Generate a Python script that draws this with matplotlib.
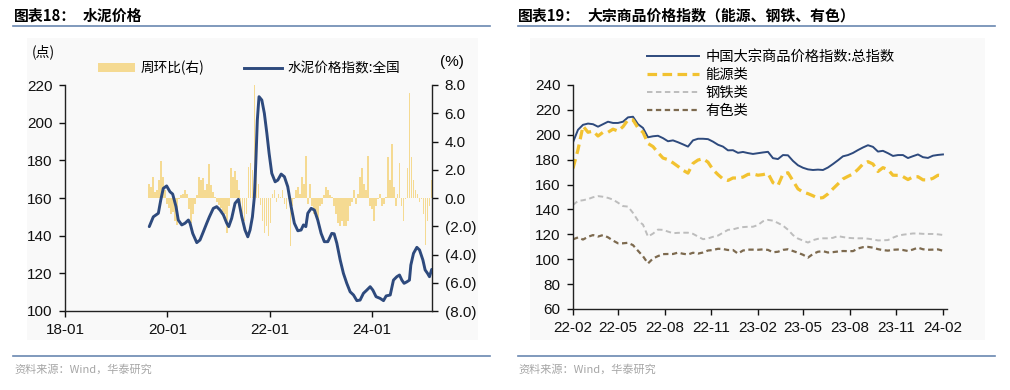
import matplotlib
matplotlib.use("Agg")
import matplotlib.pyplot as plt
from matplotlib.lines import Line2D
from matplotlib.patches import Rectangle
import pandas as pd
import numpy as np

plt.rcParams['font.family'] = ['Liberation Sans', 'Noto Sans CJK SC']
CJK = ['Noto Sans CJK SC', 'Liberation Sans']

# ---------------- data: left chart (cement) ----------------
cement_dates = ['2019-08-25','2019-09-23','2019-10-29','2019-11-15','2019-12-03','2019-12-27',
 '2020-01-20','2020-02-08','2020-03-03','2020-03-19','2020-04-13','2020-05-06','2020-05-30',
 '2020-06-11','2020-06-30','2020-07-29','2020-08-21','2020-09-14','2020-10-08','2020-10-27',
 '2020-11-24','2020-12-18','2021-01-11','2021-02-04','2021-02-28','2021-03-14','2021-04-04',
 '2021-04-28','2021-05-22','2021-06-15','2021-07-08','2021-07-28','2021-08-13','2021-08-30',
 '2021-09-13','2021-09-23','2021-10-04','2021-10-16','2021-11-05','2021-11-23','2021-12-11',
 '2021-12-27','2022-01-15','2022-02-08','2022-02-27','2022-03-23','2022-04-15','2022-05-09',
 '2022-06-02','2022-06-25','2022-07-20','2022-08-12','2022-08-29','2022-09-15','2022-09-29',
 '2022-10-23','2022-11-15','2022-12-09','2023-01-02','2023-01-25','2023-02-19','2023-03-19',
 '2023-04-05','2023-04-24','2023-05-18','2023-06-10','2023-07-04','2023-07-28','2023-08-21',
 '2023-09-14','2023-10-07','2023-10-31','2023-11-24','2023-12-18','2024-01-06','2024-01-29',
 '2024-02-27','2024-03-22','2024-04-10','2024-05-09','2024-06-01','2024-06-25','2024-07-14',
 '2024-07-31','2024-08-16','2024-09-05','2024-09-23','2024-10-03','2024-10-22','2024-11-15',
 '2024-12-04','2024-12-28','2025-01-13','2025-01-30','2025-02-13','2025-03-01']
cement_index = [144.8,150,151.9,158.9,165.1,166.4,163.3,162.1,155.4,148.3,
 145.7,146.6,148.3,146.6,141.2,136.3,137.7,142.1,146.6,150,
 154.5,155.4,153.6,151,146.6,144.8,149.2,157.2,159.3,150,
 143,139.4,143,150,160.7,178.4,201.4,213.8,212,205,
 194.3,183.7,173.1,168.6,169.5,172.7,171.3,166,155.4,146.6,
 142.6,143,145.7,144.8,151.9,154.5,153.6,148.3,141.2,136.8,
 136.8,141.2,141,136,127.1,120,114.7,110.2,108.5,105.5,
 105.8,109.4,111.1,112.9,111.1,107.6,106.7,105.5,108,108.5,
 116.4,118.2,119.1,116.4,114.7,115.5,116.4,124.4,130.6,133.8,
 132.4,127.1,121.8,120,118.2,122.1]

wow_start, wow_end = '2019-08-25', '2025-02-27'
cement_wow = [1.0,0.8,1.5,0.4,0.6,1.3,2.6,1.5,0.6,-0.4,
 -0.7,-1.1,-1.0,-1.6,-1.9,-0.1,0.2,0.3,0.6,0.3,
 -0.8,-1.8,-1.1,-0.4,0.2,1.5,1.3,1.4,0.6,1.0,
 2.4,0.9,0.4,0.1,-0.3,-0.5,-0.7,-1.0,-1.1,-2.5,
 -0.6,2.1,1.5,1.9,1.3,0.6,
 -0.6,-1.1,-1.6,-1.1,2.2,2.5,2.0,8.5,5.0,1.0,
 -0.5,-1.6,-2.5,-2.0,-2.7,-1.8,0.3,0.6,-0.3,0.3,
 0.1,0.6,-0.4,-0.8,-0.1,-3.4,-0.6,-0.1,0.6,0.8,
 0.3,1.5,1.0,3.0,-0.4,1.0,-0.6,-1.1,-1.3,-1.6,
 -0.6,-0.4,0.2,0.8,0.6,0.2,0.1,-0.6,
 -1.1,-1.8,-2.0,-1.6,-2.0,-2.0,-1.6,-0.6,-0.3,0.6,
 -0.4,0.3,1.5,2.1,1.0,0.6,3.0,-0.6,-0.8,-1.6,
 -0.6,-0.1,0.3,-0.6,-0.4,0.1,2.9,1.3,3.8,0.8,
 -0.6,0.3,2.5,-0.6,-1.6,-0.1,2.1,7.4,2.9,1.3,
 0.6,0.3,-0.3,-0.1,-1.1,-3.3,-1.6,-0.6,1.3]
left_xticks = ['2018-01-01','2020-01-01','2022-01-01','2024-01-01']
left_xticklabels = ['18-01','20-01','22-01','24-01']

# ---------------- data: right chart (commodities) ----------------
cmd_start, cmd_end = '2022-02-01', '2024-02-01'
total_index = [194,204,208,209,208.5,206.5,208.5,210.5,209.5,209.5,
 210.5,214,214.5,208.5,205.5,198,198.8,199.2,197.3,194.8,
 195.5,194,192.3,190.5,195.5,196.8,196.8,196.5,194.5,192,
 190.5,187.5,187.6,185.5,186.2,185.3,184.6,185.2,185.8,186.3,
 181.2,180.5,183.7,183.5,179,175.5,173.5,172.2,171.7,172,
 171.7,173.7,176.5,179.5,182.7,183.7,185.4,187.7,189.8,191.6,
 190.3,186.5,187.1,185.2,183,183.7,183.7,181.3,182.8,184.2,
 182,181.4,183.2,183.8,184.2]
energy = [173,188,207,202,203,199,202,202,204.5,203,
 206.5,212,212,205.5,202,193,190.5,185.7,181.3,180,
 177.5,174.6,171.5,169.2,177,179.7,180.8,178,172,168,
 164.5,163.3,165.3,165.2,166,168.2,168.5,167.5,168,169,
 161.5,159.2,168.5,169.5,163,156.5,154,152.7,151,149,
 149.5,152.5,156.6,160.5,164.5,166.6,168.5,172.2,176.5,178.4,
 176.5,170.5,173.6,172,167.5,167.4,166.4,164,166.2,166.3,
 163.8,163.7,165,167.5,167]
steel = [143.6,146.8,147.4,148.3,149.8,150.7,150.2,149.3,147.9,145.4,
 142.7,142.3,137.2,131,127.8,118.2,120.6,123.8,123.6,122.2,
 120.9,121.2,121.3,121.3,120.4,118.2,116.1,116.7,118,119,
 121.3,123.6,124,125.1,125.8,126.1,126.1,127.5,130.5,131.6,
 131,129.1,127,123.7,119.4,116.6,115,113.4,115.3,116.4,
 116.8,116.8,117.2,118.6,117.8,117.2,116.9,116.8,116.8,116.5,
 115.9,115.1,115.2,115.4,117.3,118.9,119.7,120.2,120.7,120.7,
 120.4,120.3,120.3,120,119.5]
nonferrous = [116,117.5,115.8,118,119.4,118.2,119.4,117.6,115,112.8,
 112.8,113.2,111.3,106.8,102.4,96.6,100.6,102.5,104.1,104.2,
 104.2,105.3,104.4,103.8,105.2,104.5,105.4,107,107.4,108.4,
 108.2,107.4,107.4,104.5,107,107.7,107.7,107.6,107.9,107.5,
 105.6,106,107.5,108,106.6,105.2,103.6,101.3,104.2,106,
 106.5,105.4,105.7,106.2,106.6,106.5,106.5,108.6,109.7,109.9,
 109.3,108.1,107.3,106.9,107.6,107.8,107.4,106.6,107.8,109.3,
 108,107.6,107.7,107.9,106.8]
series_names = ['中国大宗商品价格指数:总指数', '能源类', '钢铁类', '有色类']
right_xticks = ['2022-02-01','2022-05-01','2022-08-01','2022-11-01','2023-02-01',
                '2023-05-01','2023-08-01','2023-11-01','2024-02-01']
right_xticklabels = ['22-02','22-05','22-08','22-11','23-02','23-05','23-08','23-11','24-02']

# ---------------- figure ----------------
W, H = 1010, 390
fig = plt.figure(figsize=(W/100, H/100), dpi=100)
fig.patch.set_facecolor('white')

def fx(x): return x / W
def fy(y): return 1 - y / H

NAVY = '#2e4a7d'
BAR = '#f5da92'
GOLD = '#f2c230'
GREY = '#bdbdbd'
BROWN = '#7d6a4f'
RULE = '#6a87b0'

# panel backgrounds
for x0, x1 in [(27, 478), (530, 985)]:
    fig.add_artist(Rectangle((fx(x0), fy(340)), fx(x1) - fx(x0), fy(38) - fy(340),
                             transform=fig.transFigure, facecolor='#f9f9f9',
                             edgecolor='none', zorder=-10))

# titles and rules
fig.text(fx(14), fy(16), '图表18：', family=CJK, fontsize=10.7, fontweight='bold', va='center', ha='left')
fig.text(fx(83), fy(16), '水泥价格', family=CJK, fontsize=10.7, fontweight='bold', va='center', ha='left')
fig.text(fx(518), fy(16), '图表19：', family=CJK, fontsize=10.7, fontweight='bold', va='center', ha='left')
fig.text(fx(587), fy(16), '大宗商品价格指数（能源、钢铁、有色）', family=CJK, fontsize=10.7,
         fontweight='bold', va='center', ha='left')
for x0, x1 in [(13, 490), (518, 995)]:
    fig.add_artist(Line2D([fx(x0), fx(x1)], [fy(25.5), fy(25.5)], transform=fig.transFigure,
                          color=RULE, lw=1.2))
    fig.add_artist(Line2D([fx(x0), fx(x1)], [fy(355.5), fy(355.5)], transform=fig.transFigure,
                          color=RULE, lw=1.2))
fig.text(fx(14), fy(369), '资料来源：Wind，华泰研究', family=CJK, fontsize=8, color='#a6a6a6',
         va='center', ha='left')
fig.text(fx(518), fy(369), '资料来源：Wind，华泰研究', family=CJK, fontsize=8, color='#a6a6a6',
         va='center', ha='left')

# ---------------- left chart ----------------
axL = fig.add_axes([fx(65), fy(311), fx(432) - fx(65), fy(85) - fy(311)])
axR = axL.twinx()
axL.set_zorder(axR.get_zorder() + 1)
axL.patch.set_visible(False)
axR.patch.set_visible(False)

bar_dates = pd.date_range(wow_start, wow_end, periods=len(cement_wow))
step_days = (bar_dates[1] - bar_dates[0]).days
axR.bar(bar_dates, cement_wow, width=step_days * 0.85, color=BAR, linewidth=0, label='周环比(右)')
axR.set_ylim(-8, 8)
axR.set_yticks(np.arange(-8, 9, 2))
axR.set_yticklabels([f'{v:.1f}' if v >= 0 else f'({abs(v):.1f})' for v in np.arange(-8, 9, 2)])

axL.plot(pd.to_datetime(cement_dates), cement_index, color=NAVY, lw=2.1, label='水泥价格指数:全国',
         solid_capstyle='round', solid_joinstyle='round')
axL.set_ylim(100, 220)
axL.set_yticks(np.arange(100, 221, 20))
axL.set_xlim(pd.Timestamp('2018-01-01'), pd.Timestamp('2025-03-03'))
axL.set_xticks(pd.to_datetime(left_xticks))
axL.set_xticklabels(left_xticklabels)

for a in (axL, axR):
    a.spines['top'].set_visible(False)
    for s in a.spines.values():
        s.set_color('#222222')
        s.set_linewidth(1.0)
    a.tick_params(direction='out', length=4, width=1, colors='#111111', labelsize=11, pad=5)
axR.spines['left'].set_visible(False)
axR.spines['bottom'].set_visible(False)
axL.spines['right'].set_visible(False)

fig.text(fx(32), fy(52), '(点)', family=CJK, fontsize=10, va='center', ha='left')
fig.text(fx(440), fy(62), '(%)', fontsize=11, va='center', ha='left')

hL = [Rectangle((0, 0), 1, 1, facecolor=BAR, edgecolor='none'),
      Line2D([], [], color=NAVY, lw=2.1)]
fig.legend(hL, ['周环比(右)', '水泥价格指数:全国'], loc='center left',
           bbox_to_anchor=(fx(98), fy(68)), bbox_transform=fig.transFigure,
           ncol=2, frameon=False, borderpad=0, borderaxespad=0,
           handlelength=2.75, handleheight=0.55, handletextpad=0.4, columnspacing=2.9,
           prop={'family': CJK, 'size': 9.8})

# ---------------- right chart ----------------
ax2 = fig.add_axes([fx(573), fy(309), fx(947) - fx(573), fy(85) - fy(309)])
ax2.patch.set_visible(False)
cd = pd.date_range(cmd_start, cmd_end, periods=len(total_index))
l1, = ax2.plot(cd, total_index, color=NAVY, lw=1.4)
l2, = ax2.plot(cd, energy, color=GOLD, lw=2.3, dashes=(3.0, 1.7))
l3, = ax2.plot(cd, steel, color=GREY, lw=1.4, dashes=(2.8, 1.8))
l4, = ax2.plot(cd, nonferrous, color=BROWN, lw=1.6, dashes=(2.4, 1.6))
ax2.set_ylim(60, 240)
ax2.set_yticks(np.arange(60, 241, 20))
ax2.set_xlim(pd.Timestamp('2022-02-01'), pd.Timestamp('2024-02-09'))
ax2.set_xticks(pd.to_datetime(right_xticks))
ax2.set_xticklabels(right_xticklabels)
for s in ['top', 'right']:
    ax2.spines[s].set_visible(False)
for s in ['left', 'bottom']:
    ax2.spines[s].set_color('#222222')
    ax2.spines[s].set_linewidth(1.0)
ax2.tick_params(direction='out', length=4, width=1, colors='#111111', labelsize=11, pad=5)

fig.legend([l1, l2, l3, l4], series_names, loc='upper left',
           bbox_to_anchor=(fx(647), fy(50)), bbox_transform=fig.transFigure,
           frameon=False, borderpad=0, borderaxespad=0, handlelength=3.6,
           handletextpad=0.5, labelspacing=0.27, prop={'family': CJK, 'size': 10.3})

fig.savefig('out.png', dpi=100)
